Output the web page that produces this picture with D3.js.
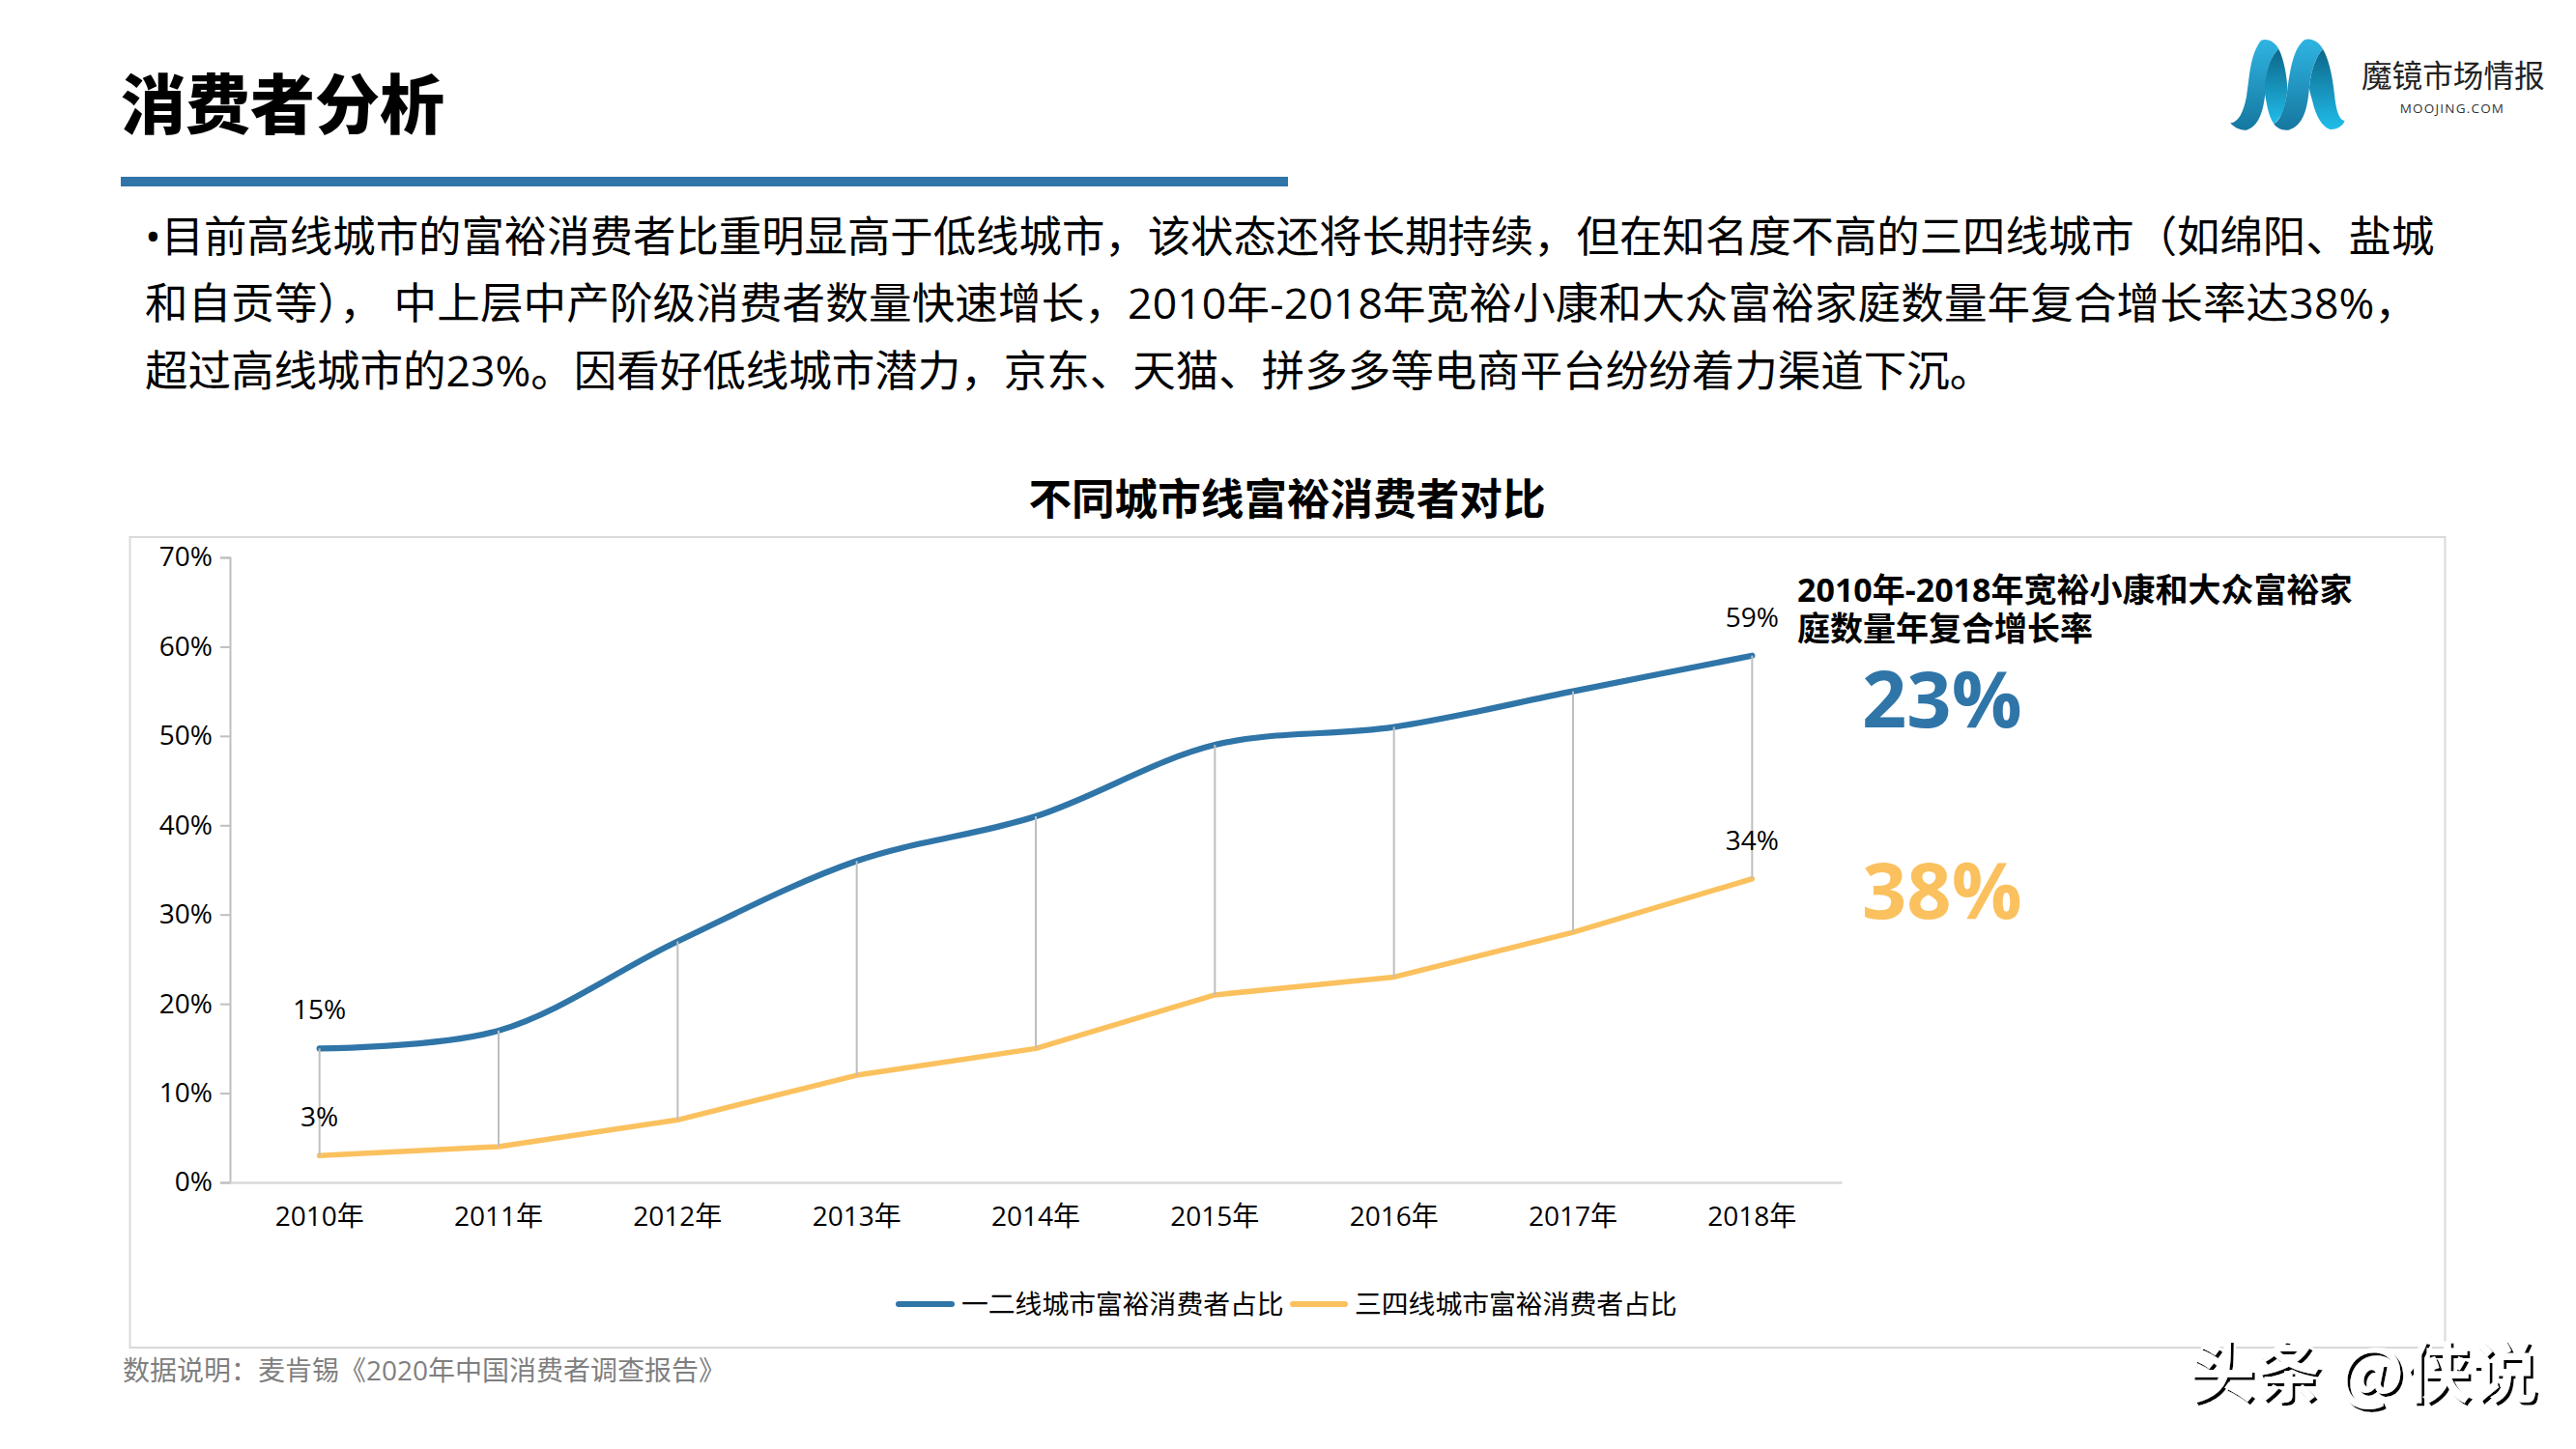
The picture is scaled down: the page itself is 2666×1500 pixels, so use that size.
<!DOCTYPE html>
<html><head><meta charset="utf-8">
<script src="https://cdn.jsdelivr.net/npm/d3@7"></script>
<style>html,body{margin:0;background:#fff}svg{display:block}
text{font-family:"Open Sans","Noto Sans CJK SC",sans-serif;fill:#000}</style></head>
<body><svg id="c" width="2666" height="1500"></svg>
<script>
const years=["2010年","2011年","2012年","2013年","2014年","2015年","2016年","2017年","2018年"];
const tier12=[15,17,27,36,41,49,51,55,59];
const tier34=[3,4,7,12,15,21,23,28,34];
const yTicks=[0,10,20,30,40,50,60,70];
const seriesNames=["一二线城市富裕消费者占比","三四线城市富裕消费者占比"];
const colors=["#2f75a8","#fbc15e"];
const labelled=[0,8];
const title="消费者分析";
const paragraph=["•目前高线城市的富裕消费者比重明显高于低线城市，该状态还将长期持续，但在知名度不高的三四线城市（如绵阳、盐城",
"和自贡等）,  中上层中产阶级消费者数量快速增长，2010年-2018年宽裕小康和大众富裕家庭数量年复合增长率达38%，",
"超过高线城市的23%。因看好低线城市潜力，京东、天猫、拼多多等电商平台纷纷着力渠道下沉。"];
paragraph[1]=paragraph[1].replace("）,  ","）， ");
const paragraphSizes=[44.4,44.5,44.5];
const chartTitle="不同城市线富裕消费者对比";
const note=["2010年-2018年宽裕小康和大众富裕家","庭数量年复合增长率"];
const cagr=["23%","38%"];
const source="数据说明：麦肯锡《2020年中国消费者调查报告》";

const svg=d3.select("#c");
const cjk='"Noto Sans CJK SC",sans-serif';
const defs=svg.append("defs");

svg.append("text").attr("x",125).attr("y",133).attr("font-size",67).attr("font-weight",900).style("font-family",cjk).text(title);
svg.append("rect").attr("x",125).attr("y",183).attr("width",1208).attr("height",10).attr("fill","#2f75a8");
svg.selectAll(".p").data(paragraph).join("text").attr("class","p").attr("x",150).attr("y",(d,i)=>261+i*69.3)
 .attr("font-size",(d,i)=>paragraphSizes[i]).style("white-space","pre").text(d=>d)
 .each(function(d,i){ if(i===1) d3.select(this).attr("textLength",2352).attr("lengthAdjust","spacing"); });

// logo
const grad=(id,a,b)=>{const g=defs.append("linearGradient").attr("id",id).attr("x1",0).attr("x2",0).attr("y1",0).attr("y2",1);
 g.append("stop").attr("offset",0).attr("stop-color",a);g.append("stop").attr("offset",1).attr("stop-color",b);};
grad("lgRibbon","#2fb4e2","#15779f");
grad("lgFold","#0d6688","#20bdeb");
const logo=svg.append("g").attr("transform","translate(2290,30) scale(0.3333)");
const logoShapes=[
 ["lgRibbon","M55 292C80 290 95 260 105 210C115 150 115 80 150 36C165 28 190 35 205 62C180 85 168 130 165 180C160 240 150 300 105 314C85 316 65 305 55 292Z"],
 ["lgFold","M205 62C220 90 232 150 232 190C225 240 220 270 190 295C170 265 168 230 160 190C165 130 180 85 205 62Z"],
 ["lgFold","M342 62C365 100 375 170 380 220C385 260 395 285 410 285C405 300 385 314 365 312C340 305 320 270 310 225C305 205 300 195 300 180C305 130 320 85 342 62Z"],
 ["lgRibbon","M190 295C215 280 225 240 232 190C240 130 250 60 285 34C305 26 330 40 342 62C320 85 305 130 300 180C295 240 285 300 235 314C215 316 200 308 190 295Z"]];
logo.selectAll("path").data(logoShapes).join("path").attr("fill",d=>`url(#${d[0]})`).attr("d",d=>d[1]);
svg.append("text").attr("x",2444).attr("y",90).attr("font-size",31.6).style("font-family",cjk).style("fill","#222").text("魔镜市场情报");
svg.append("text").attr("x",2538).attr("y",117).attr("text-anchor","middle").attr("font-size",13.5).attr("letter-spacing",1.2).style("fill","#333").text("MOOJING.COM");

// chart
svg.append("text").attr("x",1332).attr("y",533).attr("text-anchor","middle").attr("font-size",44.6).attr("font-weight",700).style("font-family",cjk).text(chartTitle);
svg.append("rect").attr("x",134.5).attr("y",556).attr("width",2396).attr("height",839).attr("fill","none").attr("stroke","#d9d9d9").attr("stroke-width",2);

const x=d3.scaleBand().domain(years).range([238,1906]);
const y=d3.scaleLinear().domain([0,70]).range([1224,577]);
const cx=d=>x(d)+x.bandwidth()/2;
const fmt=d=>d+"%";

const yAxis=svg.append("g").attr("transform","translate(238,0)").call(d3.axisLeft(y).tickValues(yTicks).tickFormat(fmt).tickSize(10).tickPadding(8));
yAxis.selectAll("line").attr("stroke","#bfbfbf").attr("stroke-width",2);
yAxis.select(".domain").attr("stroke","#bfbfbf").attr("stroke-width",2);
yAxis.selectAll("text").attr("font-size",28).style("font-family",'"Open Sans"');
const xAxis=svg.append("g").attr("transform","translate(0,1224)").call(d3.axisBottom(x).tickSize(0).tickPadding(25));
xAxis.select(".domain").attr("stroke","#d9d9d9").attr("stroke-width",2.5);
xAxis.selectAll("text").attr("font-size",28);

const smooth=d3.line().x((d,i)=>cx(years[i])).y(d=>y(d)).curve(d3.curveCatmullRom.alpha(0.5));
const straight=d3.line().x((d,i)=>cx(years[i])).y(d=>y(d));
svg.append("path").attr("d",smooth(tier12)).attr("fill","none").attr("stroke",colors[0]).attr("stroke-width",6.2).attr("stroke-linecap","round");
svg.append("path").attr("d",straight(tier34)).attr("fill","none").attr("stroke",colors[1]).attr("stroke-width",5.5).attr("stroke-linecap","round").attr("stroke-linejoin","round");

svg.append("g").selectAll("line").data(years).join("line")
 .attr("x1",cx).attr("x2",cx).attr("y1",(d,i)=>y(tier12[i])).attr("y2",(d,i)=>y(tier34[i]))
 .attr("stroke","#bfbfbf").attr("stroke-width",2);

[tier12,tier34].forEach(s=>svg.append("g").selectAll("text").data(labelled).join("text")
 .attr("x",i=>cx(years[i])).attr("y",i=>y(s[i])-30).attr("text-anchor","middle").attr("font-size",28).text(i=>fmt(s[i])));

// legend
const legX=[[927,988,995],[1335,1395,1402]];
seriesNames.forEach((n,k)=>{
 svg.append("line").attr("x1",legX[k][0]+3).attr("x2",legX[k][1]-3).attr("y1",1350).attr("y2",1350).attr("stroke",colors[k]).attr("stroke-width",6).attr("stroke-linecap","round");
 svg.append("text").attr("x",legX[k][2]).attr("y",1360).attr("font-size",27.8).style("font-family",cjk).text(n);
});

// annotation
svg.selectAll(".n").data(note).join("text").attr("class","n").attr("x",1860).attr("y",(d,i)=>623+i*40).attr("font-size",34).attr("font-weight",700).text(d=>d);
cagr.forEach((t,k)=>svg.append("text").attr("x",1927).attr("y",[753,951][k]).attr("font-size",81).attr("font-weight",700).style("fill",colors[k]).style("font-family",'"Open Sans"').text(t));

svg.append("text").attr("x",127).attr("y",1429).attr("font-size",28).style("fill","#7f7f7f").text(source);

// watermark: embossed dark edges on a thin white halo
const f=defs.append("filter").attr("id","emboss").attr("x","-5%").attr("y","-10%").attr("width","110%").attr("height","120%");
f.append("feOffset").attr("in","SourceAlpha").attr("dx",-3).attr("dy",-3.5).attr("result","off");
f.append("feComposite").attr("in","SourceGraphic").attr("in2","off").attr("operator","out").attr("result","edge");
f.append("feMorphology").attr("in","SourceAlpha").attr("operator","dilate").attr("radius",1.5).attr("result","fat");
f.append("feFlood").attr("flood-color","#fff").attr("result","w");
f.append("feComposite").attr("in","w").attr("in2","fat").attr("operator","in").attr("result","halo");
const m=f.append("feMerge");m.append("feMergeNode").attr("in","halo");m.append("feMergeNode").attr("in","edge");
svg.append("text").attr("x",2268).attr("y",1449).attr("font-size",69).attr("font-weight",700).attr("filter","url(#emboss)").style("font-family",cjk).style("white-space","pre").text("头条 @侠说");
</script></body></html>
